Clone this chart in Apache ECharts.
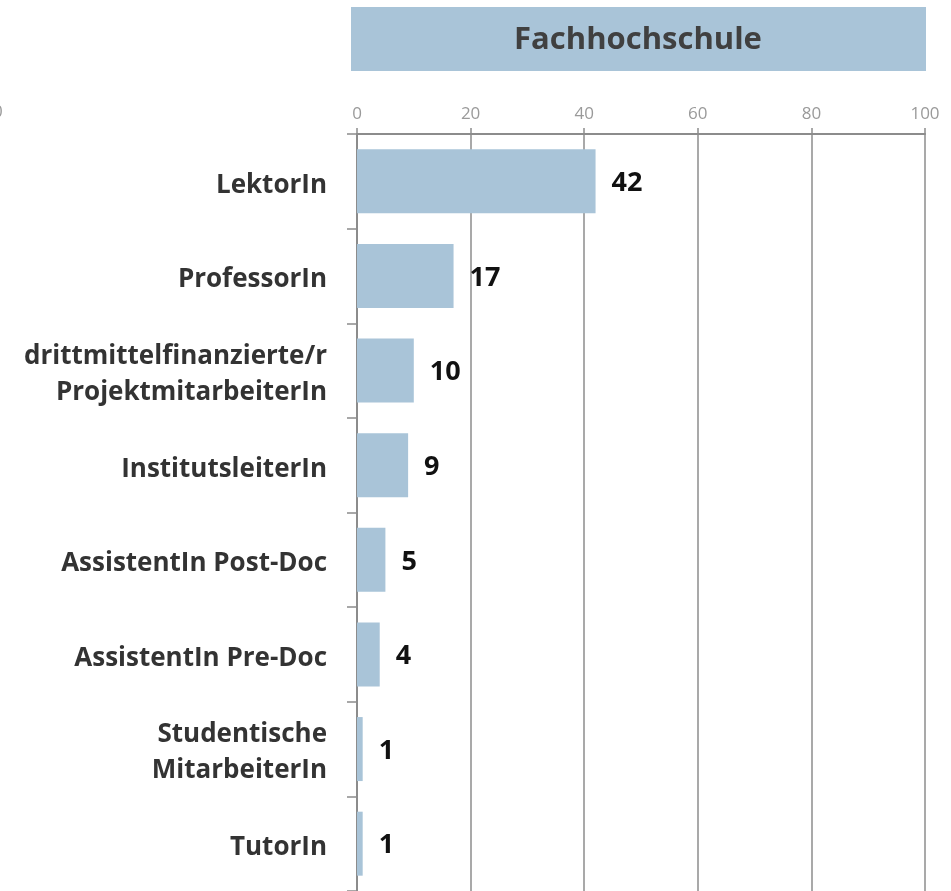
<!DOCTYPE html>
<html>
<head>
<meta charset="utf-8">
<script src="https://cdn.jsdelivr.net/npm/echarts@6/dist/echarts.min.js"></script>
<style>
  html, body { margin: 0; padding: 0; background: #fff; }
  #chart { width: 951px; height: 891px; }
</style>
</head>
<body>
<div id="chart"></div>
<script>
const categories = [
  'LektorIn',
  'ProfessorIn',
  'drittmittelfinanzierte/r\nProjektmitarbeiterIn',
  'InstitutsleiterIn',
  'AssistentIn Post-Doc',
  'AssistentIn Pre-Doc',
  'Studentische\nMitarbeiterIn',
  'TutorIn'
];
const values = [42, 17, 10, 9, 5, 4, 1, 1];
const xTicks = [0, 20, 40, 60, 80, 100];

const FONT = '"Open Sans", sans-serif';
const BAR = '#a9c4d8';
const AXIS = '#8c8c8c';

const chart = echarts.init(document.getElementById('chart'));

chart.setOption({
  animation: false,
  backgroundColor: '#fff',
  graphic: [
    {
      type: 'rect',
      shape: { x: 351, y: 7, width: 575, height: 64 },
      style: { fill: BAR }
    },
    {
      type: 'text',
      x: 638, y: 40,
      style: {
        text: 'Fachhochschule',
        font: 'bold 31px ' + FONT,
        fill: '#404040',
        align: 'center',
        verticalAlign: 'middle'
      }
    },
    {
      // clipped tick label of the neighbouring panel
      type: 'text',
      x: -7, y: 112,
      style: { text: '0', font: '17px ' + FONT, fill: '#9a9a9a', verticalAlign: 'middle' }
    }
  ],
  grid: { left: 357, right: 26, top: 134, height: 762, containLabel: false },
  xAxis: {
    type: 'value',
    position: 'top',
    min: xTicks[0],
    max: xTicks[xTicks.length - 1],
    interval: 20,
    axisLine: { show: true, lineStyle: { color: AXIS, width: 2 } },
    axisTick: { show: true, length: 6, lineStyle: { color: AXIS, width: 1.5 } },
    splitLine: { show: true, lineStyle: { color: AXIS, width: 1.5 } },
    axisLabel: { color: '#9a9a9a', fontSize: 17, fontFamily: FONT, margin: 11 }
  },
  yAxis: {
    type: 'category',
    inverse: true,
    data: categories,
    axisLine: { show: true, lineStyle: { color: AXIS, width: 2 } },
    axisTick: { show: true, length: 10, lineStyle: { color: AXIS, width: 1.5 } },
    axisLabel: {
      align: 'right',
      margin: 30,
      // rich text so the labels can sit a few px below the band centre
      formatter: (v) => '{pad|}\n' + v.split('\n').map((s) => '{c|' + s + '}').join('\n'),
      rich: {
        pad: { height: 8, lineHeight: 8 },
        c: {
          color: '#333',
          fontSize: 26,
          fontWeight: 'bold',
          fontFamily: FONT,
          lineHeight: 36
        }
      }
    }
  },
  series: [{
    type: 'bar',
    data: values,
    barWidth: 64,
    itemStyle: { color: BAR },
    label: {
      show: true,
      position: 'right',
      distance: 16,
      offset: [0, 2],
      color: '#111',
      fontSize: 27,
      fontWeight: 'bold',
      fontFamily: FONT
    }
  }]
});
</script>
</body>
</html>
